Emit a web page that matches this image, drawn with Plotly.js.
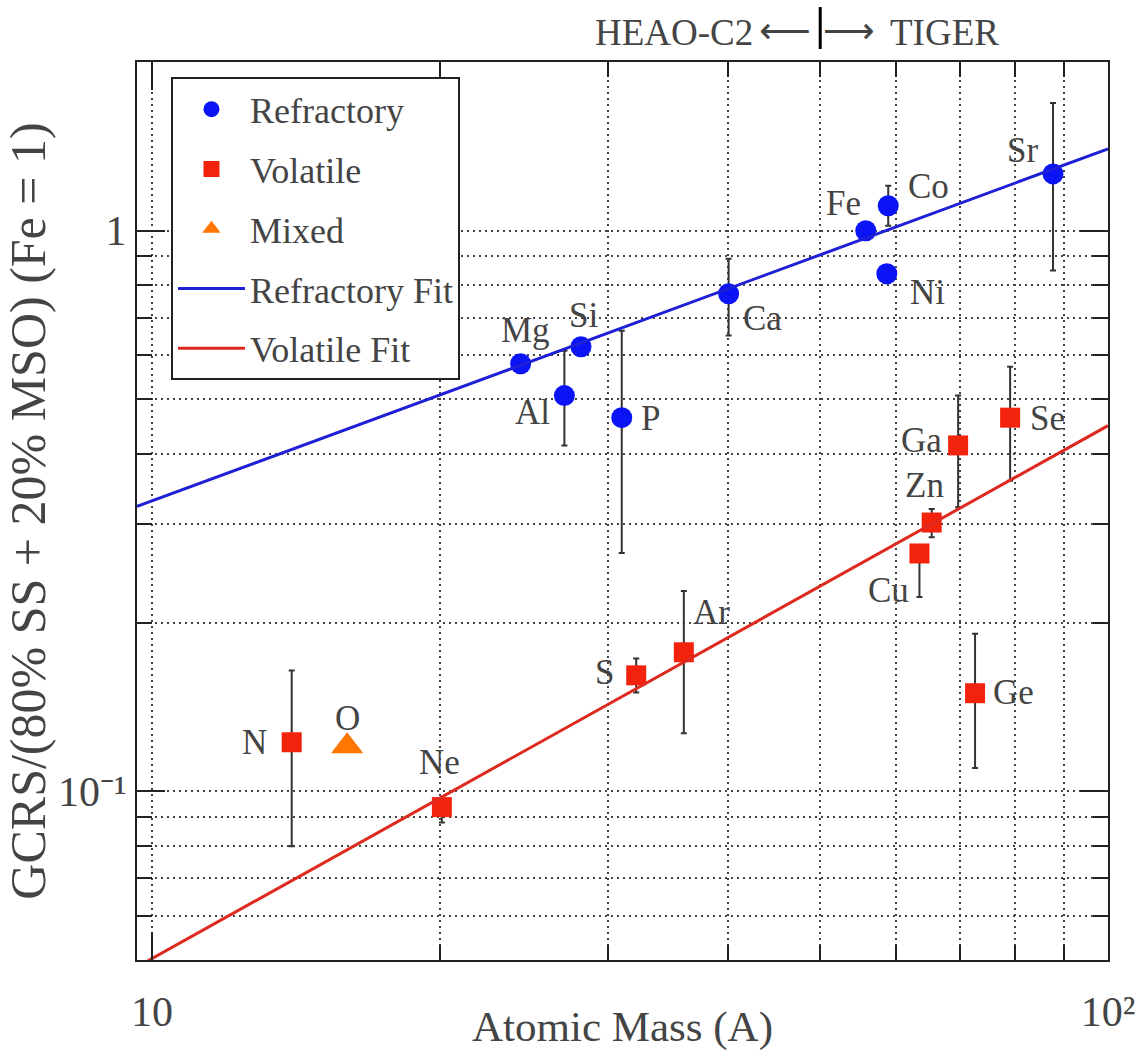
<!DOCTYPE html>
<html>
<head>
<meta charset="utf-8">
<script src="https://cdn.plot.ly/plotly-3.0.1.min.js"></script>
<style>html,body{margin:0;padding:0;background:#fff;}#chart{width:1138px;height:1051px;}</style>
</head>
<body>
<div id="chart"></div>
<script>
// ---------------- data ----------------
const refNames = ['Mg', 'Al', 'Si', 'P', 'Ca', 'Fe', 'Co', 'Ni', 'Sr'];
const refMass  = [24.3, 27.0, 28.1, 31.0, 40.1, 55.8, 58.9, 58.7, 87.6];
const refRatio = [0.579, 0.508, 0.621, 0.464, 0.772, 1.0, 1.108, 0.838, 1.263];
const refHigh  = [0.579, 0.611, 0.621, 0.663, 0.891, 1.0, 1.203, 0.838, 1.69];
const refLow   = [0.579, 0.414, 0.621, 0.266, 0.650, 1.0, 1.021, 0.838, 0.849];

const volNames = ['N', 'Ne', 'S', 'Ar', 'Cu', 'Zn', 'Ga', 'Ge', 'Se'];
const volMass  = [14.0, 20.1, 32.1, 36.0, 63.5, 65.4, 69.7, 72.6, 79.0];
const volRatio = [0.1223, 0.0937, 0.161, 0.177, 0.2656, 0.3016, 0.414, 0.1496, 0.464];
const volHigh  = [0.1643, 0.0965, 0.1726, 0.2276, 0.275, 0.319, 0.508, 0.191, 0.572];
const volLow   = [0.0798, 0.0880, 0.150, 0.1269, 0.222, 0.284, 0.321, 0.110, 0.358];

const mixNames = ['O'];
const mixMass  = [16.0];
const mixRatio = [0.1203];

const refFitX = [9.645, 100];
const refFitY = [0.3222, 1.40];
const volFitX = [9.645, 100];
const volFitY = [0.0486, 0.449];

const xMajorTicks = [10, 100];
const xMajorText  = ['10', '10²'];
const xMinorTicks = [20, 30, 40, 50, 60, 70, 80, 90];
const yMajorTicks = [0.1, 1];
const yMajorText  = ['10⁻¹', '1'];
const yMinorTicks = [0.06, 0.07, 0.08, 0.09, 0.2, 0.3, 0.4, 0.5, 0.6, 0.7, 0.8, 0.9];

const boundaryMass = 50;

// ---------------- styles ----------------
const FONT = 'Liberation Serif';
const BLUE = '#0a14f5';
const RED = '#f2220c';
const ORANGE = '#ff7700';
const ERRC = '#333333';
const AXC = '#222222';
// label offsets in pixels (dx, dy up)
const labelOffset = {
  Mg: [5, 33], Al: [-32, -17], Si: [3, 31], P: [29, -1], Ca: [34, -25],
  Fe: [-22, 27], Co: [40, 19], Ni: [41, -19], Sr: [-31, 23],
  N: [-37, 0], O: [0, 28], Ne: [-2, 45], S: [-32, 3], Ar: [28, 40],
  Cu: [-31, -37], Zn: [-7, 37], Ga: [-37, 5], Se: [37, -1], Ge: [38, 1]
};

function diff(a, b) { return a.map((v, i) => v - b[i]); }

const errStyle = {type: 'data', symmetric: false, color: ERRC, thickness: 2, width: 3};

const traces = [
  {x: refMass, y: refRatio, mode: 'markers', name: 'Refractory', legendgroup: 'a',
   marker: {symbol: 'circle', size: 21, color: BLUE},
   error_y: Object.assign({array: diff(refHigh, refRatio), arrayminus: diff(refRatio, refLow)}, errStyle)},
  {x: volMass, y: volRatio, mode: 'markers', name: 'Volatile', legendgroup: 'b',
   marker: {symbol: 'square', size: 20, color: RED},
   error_y: Object.assign({array: diff(volHigh, volRatio), arrayminus: diff(volRatio, volLow)}, errStyle)},
  {x: mixMass, y: mixRatio, mode: 'markers', name: 'Mixed', legendgroup: 'c',
   marker: {symbol: 'triangle-up', size: 28, color: ORANGE}},
  {x: refFitX, y: refFitY, mode: 'lines', name: 'Refractory Fit', legendgroup: 'd',
   line: {color: '#1f1fd6', width: 3}},
  {x: volFitX, y: volFitY, mode: 'lines', name: 'Volatile Fit', legendgroup: 'e',
   line: {color: '#de2a1e', width: 3}}
];

const annotations = [];
function addLabels(names, xs, ys) {
  names.forEach((n, i) => {
    const off = labelOffset[n] || [0, 0];
    annotations.push({x: Math.log10(xs[i]), y: Math.log10(ys[i]), xref: 'x', yref: 'y', text: n,
      showarrow: false, xshift: off[0], yshift: off[1], xanchor: 'center', yanchor: 'middle',
      font: {family: FONT, size: 35}});
  });
}
addLabels(refNames, refMass, refRatio);
addLabels(volNames, volMass, volRatio);
addLabels(mixNames, mixMass, mixRatio);

// top annotation
annotations.push({xref: 'paper', yref: 'paper', x: 0.6365, y: 1.033, text: 'HEAO-C2', showarrow: false,
  xanchor: 'right', yanchor: 'middle', font: {family: FONT, size: 37}});
annotations.push({xref: 'paper', yref: 'paper', x: 0.7734, y: 1.033, text: 'TIGER', showarrow: false,
  xanchor: 'left', yanchor: 'middle', font: {family: FONT, size: 37}});
annotations.push({xref: 'paper', yref: 'paper', x: 0.6960, y: 1.035, text: '⟵', showarrow: false,
  xanchor: 'right', yanchor: 'middle', font: {family: 'DejaVu Sans', size: 36}});
annotations.push({xref: 'paper', yref: 'paper', x: 0.7040, y: 1.035, text: '⟶', showarrow: false,
  xanchor: 'left', yanchor: 'middle', font: {family: 'DejaVu Sans', size: 36}});

const gridStyle = {showgrid: true, gridcolor: '#444', gridwidth: 1.5, griddash: '2px,4px'};

const layout = {
  width: 1138, height: 1051,
  margin: {l: 137, r: 30, t: 62, b: 91},
  paper_bgcolor: '#fff', plot_bgcolor: '#fff',
  font: {family: FONT},
  showlegend: true,
  legend: {x: 0.035, y: 0.983, xanchor: 'left', yanchor: 'top', bgcolor: '#fff',
    bordercolor: AXC, borderwidth: 2, font: {family: FONT, size: 36},
    traceorder: 'grouped', tracegroupgap: 10, itemwidth: 67},
  xaxis: Object.assign({
    type: 'log', range: [Math.log10(9.645), 2], autorange: false,
    tickmode: 'array', tickvals: xMajorTicks, ticktext: xMajorText,
    ticks: 'inside', ticklen: 28, tickwidth: 2, tickcolor: AXC,
    showline: true, linecolor: AXC, linewidth: 2, mirror: 'allticks', zeroline: false,
    ticklabelstandoff: 14,
    tickfont: {family: FONT, size: 42},
    title: {text: 'Atomic Mass (A)', font: {family: FONT, size: 43}},
    minor: Object.assign({tickmode: 'array', tickvals: xMinorTicks, ticks: 'inside', ticklen: 15,
      tickwidth: 2, tickcolor: AXC}, gridStyle)
  }, gridStyle),
  yaxis: Object.assign({
    type: 'log', range: [Math.log10(0.05), Math.log10(2)], autorange: false,
    tickmode: 'array', tickvals: yMajorTicks, ticktext: yMajorText,
    ticks: 'inside', ticklen: 28, tickwidth: 2, tickcolor: AXC,
    showline: true, linecolor: AXC, linewidth: 2, mirror: 'allticks', zeroline: false,
    tickfont: {family: FONT, size: 42},
    title: {text: 'GCRS/(80% SS + 20% MSO) (Fe = 1)', font: {family: FONT, size: 50}},
    minor: Object.assign({tickmode: 'array', tickvals: yMinorTicks, ticks: 'inside', ticklen: 15,
      tickwidth: 2, tickcolor: AXC}, gridStyle)
  }, gridStyle),
  shapes: [
    {type: 'line', xref: 'x', yref: 'paper', x0: boundaryMass, x1: boundaryMass, y0: 1.0145, y1: 1.0612,
     line: {color: '#000', width: 3}}
  ],
  annotations: annotations
};

Plotly.newPlot('chart', traces, layout, {displayModeBar: false});
</script>
</body>
</html>
